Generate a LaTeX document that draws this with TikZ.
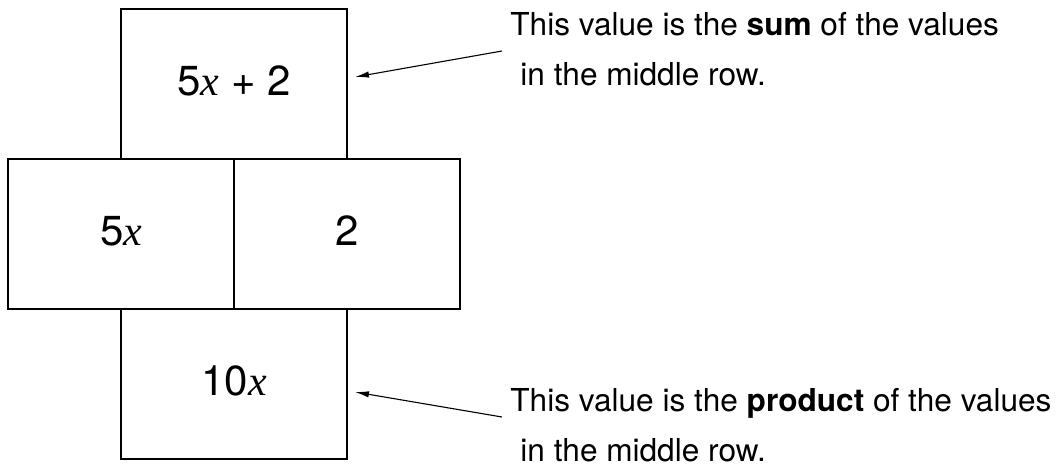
\documentclass[tikz,border=0pt]{standalone}
\usepackage{fontspec}
\setmainfont{TeX Gyre Heros}
\newfontfamily\varfont{Liberation Serif}
\newcommand{\varx}{{\varfont\itshape x}}
\usetikzlibrary{arrows.meta, positioning}

\begin{document}
\begin{tikzpicture}[x=0.5pt, y=-0.5pt,
  cell/.style={draw, line width=0.8pt, minimum width=113pt, minimum height=75pt, inner sep=0pt, outer sep=0pt, text depth=3pt, font=\fontsize{21}{25}\selectfont},
  note/.style={anchor=base west, align=left, inner sep=0pt, font=\fontsize{15.8}{25}\selectfont},
  pointer/.style={-{Latex[length=7pt,width=3.2pt]}, line width=0.55pt}]
  \useasboundingbox (0,0) rectangle (1060,466);

  % stacked cells
  \node[cell] (total) at (234,84) {5\varx{} + 2};
  \node[cell, anchor=north east] (left) at (total.south) {5\varx};
  \node[cell, anchor=north west] (right) at (total.south) {2};
  \node[cell, anchor=north] (prod) at (left.south east) {10\varx};

  % notes (base is the last line)
  \node[note] (sumnote) at (510,85) {This value is the \textbf{sum} of the values\\\hspace*{5pt}in the middle row.};
  \node[note] (prodnote) at (510,461) {This value is the \textbf{product} of the values\\\hspace*{5pt}in the middle row.};

  % pointers
  \coordinate (sumfrom) at (502,51);
  \coordinate (sumto) at (355,77);
  \coordinate (prodfrom) at (502,417);
  \coordinate (prodto) at (355,392);
  \draw[pointer] (sumfrom) -- (sumto);
  \draw[pointer] (prodfrom) -- (prodto);
\end{tikzpicture}
\end{document}
